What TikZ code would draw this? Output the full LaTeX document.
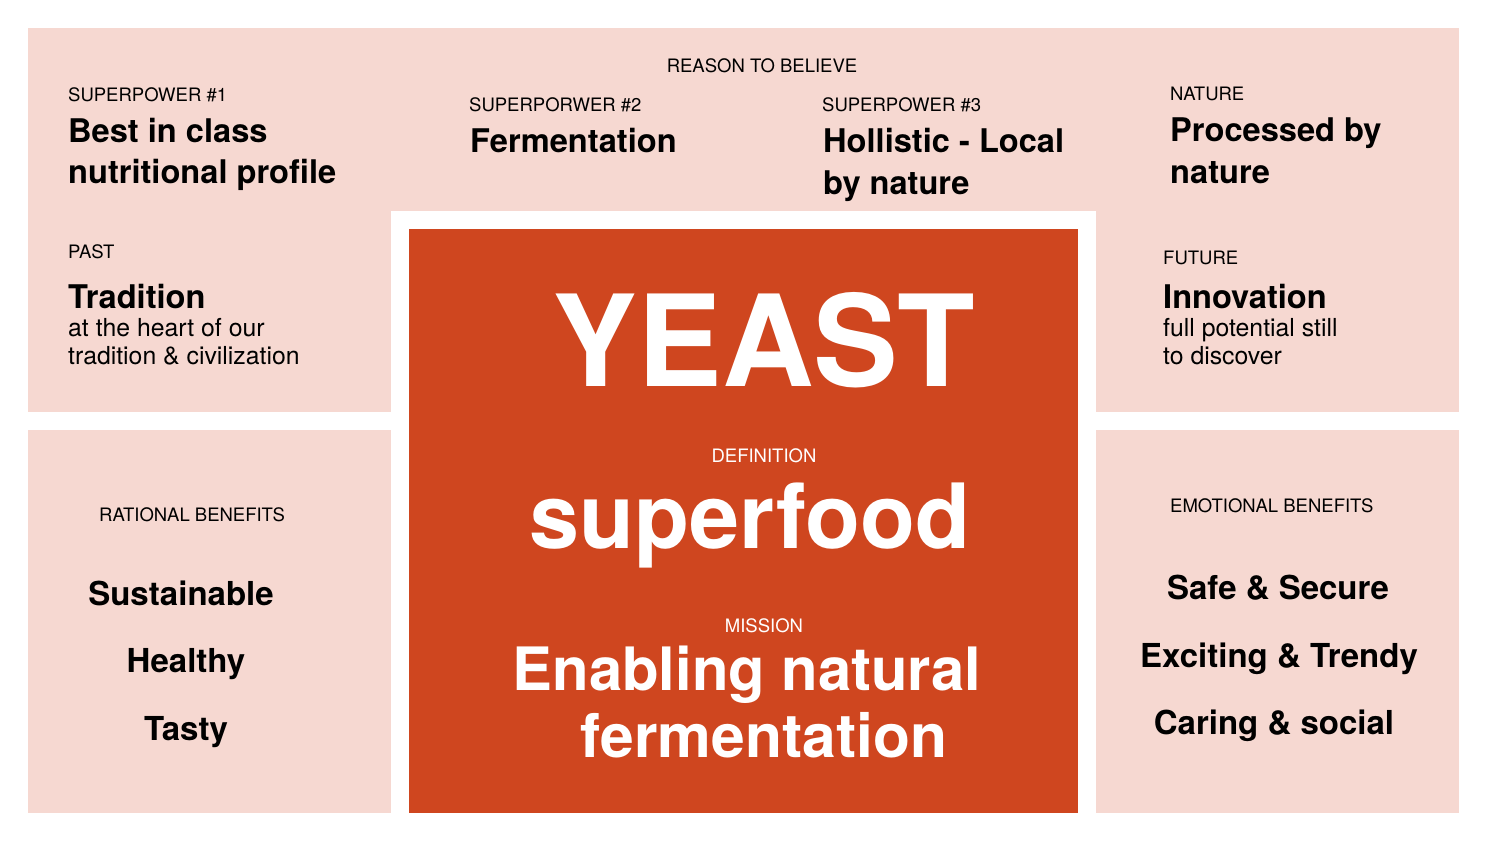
\documentclass[tikz,border=0pt]{standalone}
\usepackage{fontspec}
\setmainfont{TeX Gyre Heros}
\usepackage{tikz}
\usetikzlibrary{positioning}
\definecolor{blush}{RGB}{246,216,209}
\definecolor{rust}{RGB}{207,70,31}
\tikzstyle{pane}=[fill=blush,draw=none]
\tikzstyle{core}=[fill=rust,draw=none]
\tikzset{
	tag/.style={inner sep=0pt,anchor=base west,font=\fontsize{18.5}{22}\selectfont},
	hd/.style={inner sep=0pt,anchor=base west,font=\fontsize{32.6}{41}\selectfont\bfseries},
	sub/.style={inner sep=0pt,anchor=base west,font=\fontsize{24.8}{28}\selectfont},
	ben/.style={inner sep=0pt,anchor=base,font=\fontsize{33}{40}\selectfont\bfseries},
	big/.style={inner sep=0pt,anchor=base,text=white,font=\fontsize{#1}{#1}\selectfont\bfseries}
}
\begin{document}
\begin{tikzpicture}[x=1pt,y=-1pt]
	\useasboundingbox (0,0) rectangle (1500,842);
	\fill[white] (0,0) rectangle (1500,842);
	\fill[pane] (28,28) rectangle (1459,211);
	\fill[pane] (28,211) rectangle (391,412);
	\fill[pane] (1096,211) rectangle (1459,412);
	\fill[pane] (28,430) rectangle (391,813);
	\fill[pane] (1096,430) rectangle (1459,813);
	\fill[core] (409,229) rectangle (1078,813);
	% reason to believe
	\node (rtb) [tag,anchor=base] at (762,73) {REASON TO BELIEVE};
	\node (sp1) [tag] at (68,102) {SUPERPOWER \#1};
	\node (sp1a) [hd] at (68,143) {Best in class};
	\node (sp1b) [hd] at (68,184) {nutritional profile};
	\node (sp2) [tag] at (469,112) {SUPERPORWER \#2};
	\node (sp2a) [hd] at (470,153) {Fermentation};
	\node (sp3) [tag] at (822,112) {SUPERPOWER \#3};
	\node (sp3a) [hd] at (823,153) {Hollistic - Local};
	\node (sp3b) [hd] at (823,195) {by nature};
	\node (nat) [tag] at (1170,101) {NATURE};
	\node (nata) [hd] at (1170,142) {Processed by};
	\node (natb) [hd] at (1170,184) {nature};
	% past / future
	\node (past) [tag] at (68,259) {PAST};
	\node (pasta) [hd] at (68,309) {Tradition};
	\node (pastb) [sub] at (68,337) {at the heart of our};
	\node (pastc) [sub] at (68,365) {tradition \& civilization};
	\node (fut) [tag] at (1163,265) {FUTURE};
	\node (futa) [hd] at (1163,309) {Innovation};
	\node (futb) [sub] at (1163,337) {full potential still};
	\node (futc) [sub] at (1163,365) {to discover};
	% core
	\node (yeast) [big=127] at (764,386) {YEAST};
	\node (defn) [tag,anchor=base,text=white] at (764,462) {DEFINITION};
	\node (sfood) [big=90] at (750,548) {superfood};
	\node (miss) [tag,anchor=base,text=white] at (764,632) {MISSION};
	\node (missa) [big=59.8] at (747,690) {Enabling natural};
	\node (missb) [big=60.5] at (764,757) {fermentation};
	% benefits
	\node (rat) [tag] at (99,521) {RATIONAL BENEFITS};
	\node (rat1) [ben] at (181,605) {Sustainable};
	\node (rat2) [ben] at (186,672) {Healthy};
	\node (rat3) [ben] at (186,740) {Tasty};
	\node (emo) [tag] at (1170,512) {EMOTIONAL BENEFITS};
	\node (emo1) [ben] at (1278,599) {Safe \& Secure};
	\node (emo2) [ben] at (1279,667) {Exciting \& Trendy};
	\node (emo3) [ben] at (1274,734) {Caring \& social};
\end{tikzpicture}
\end{document}
